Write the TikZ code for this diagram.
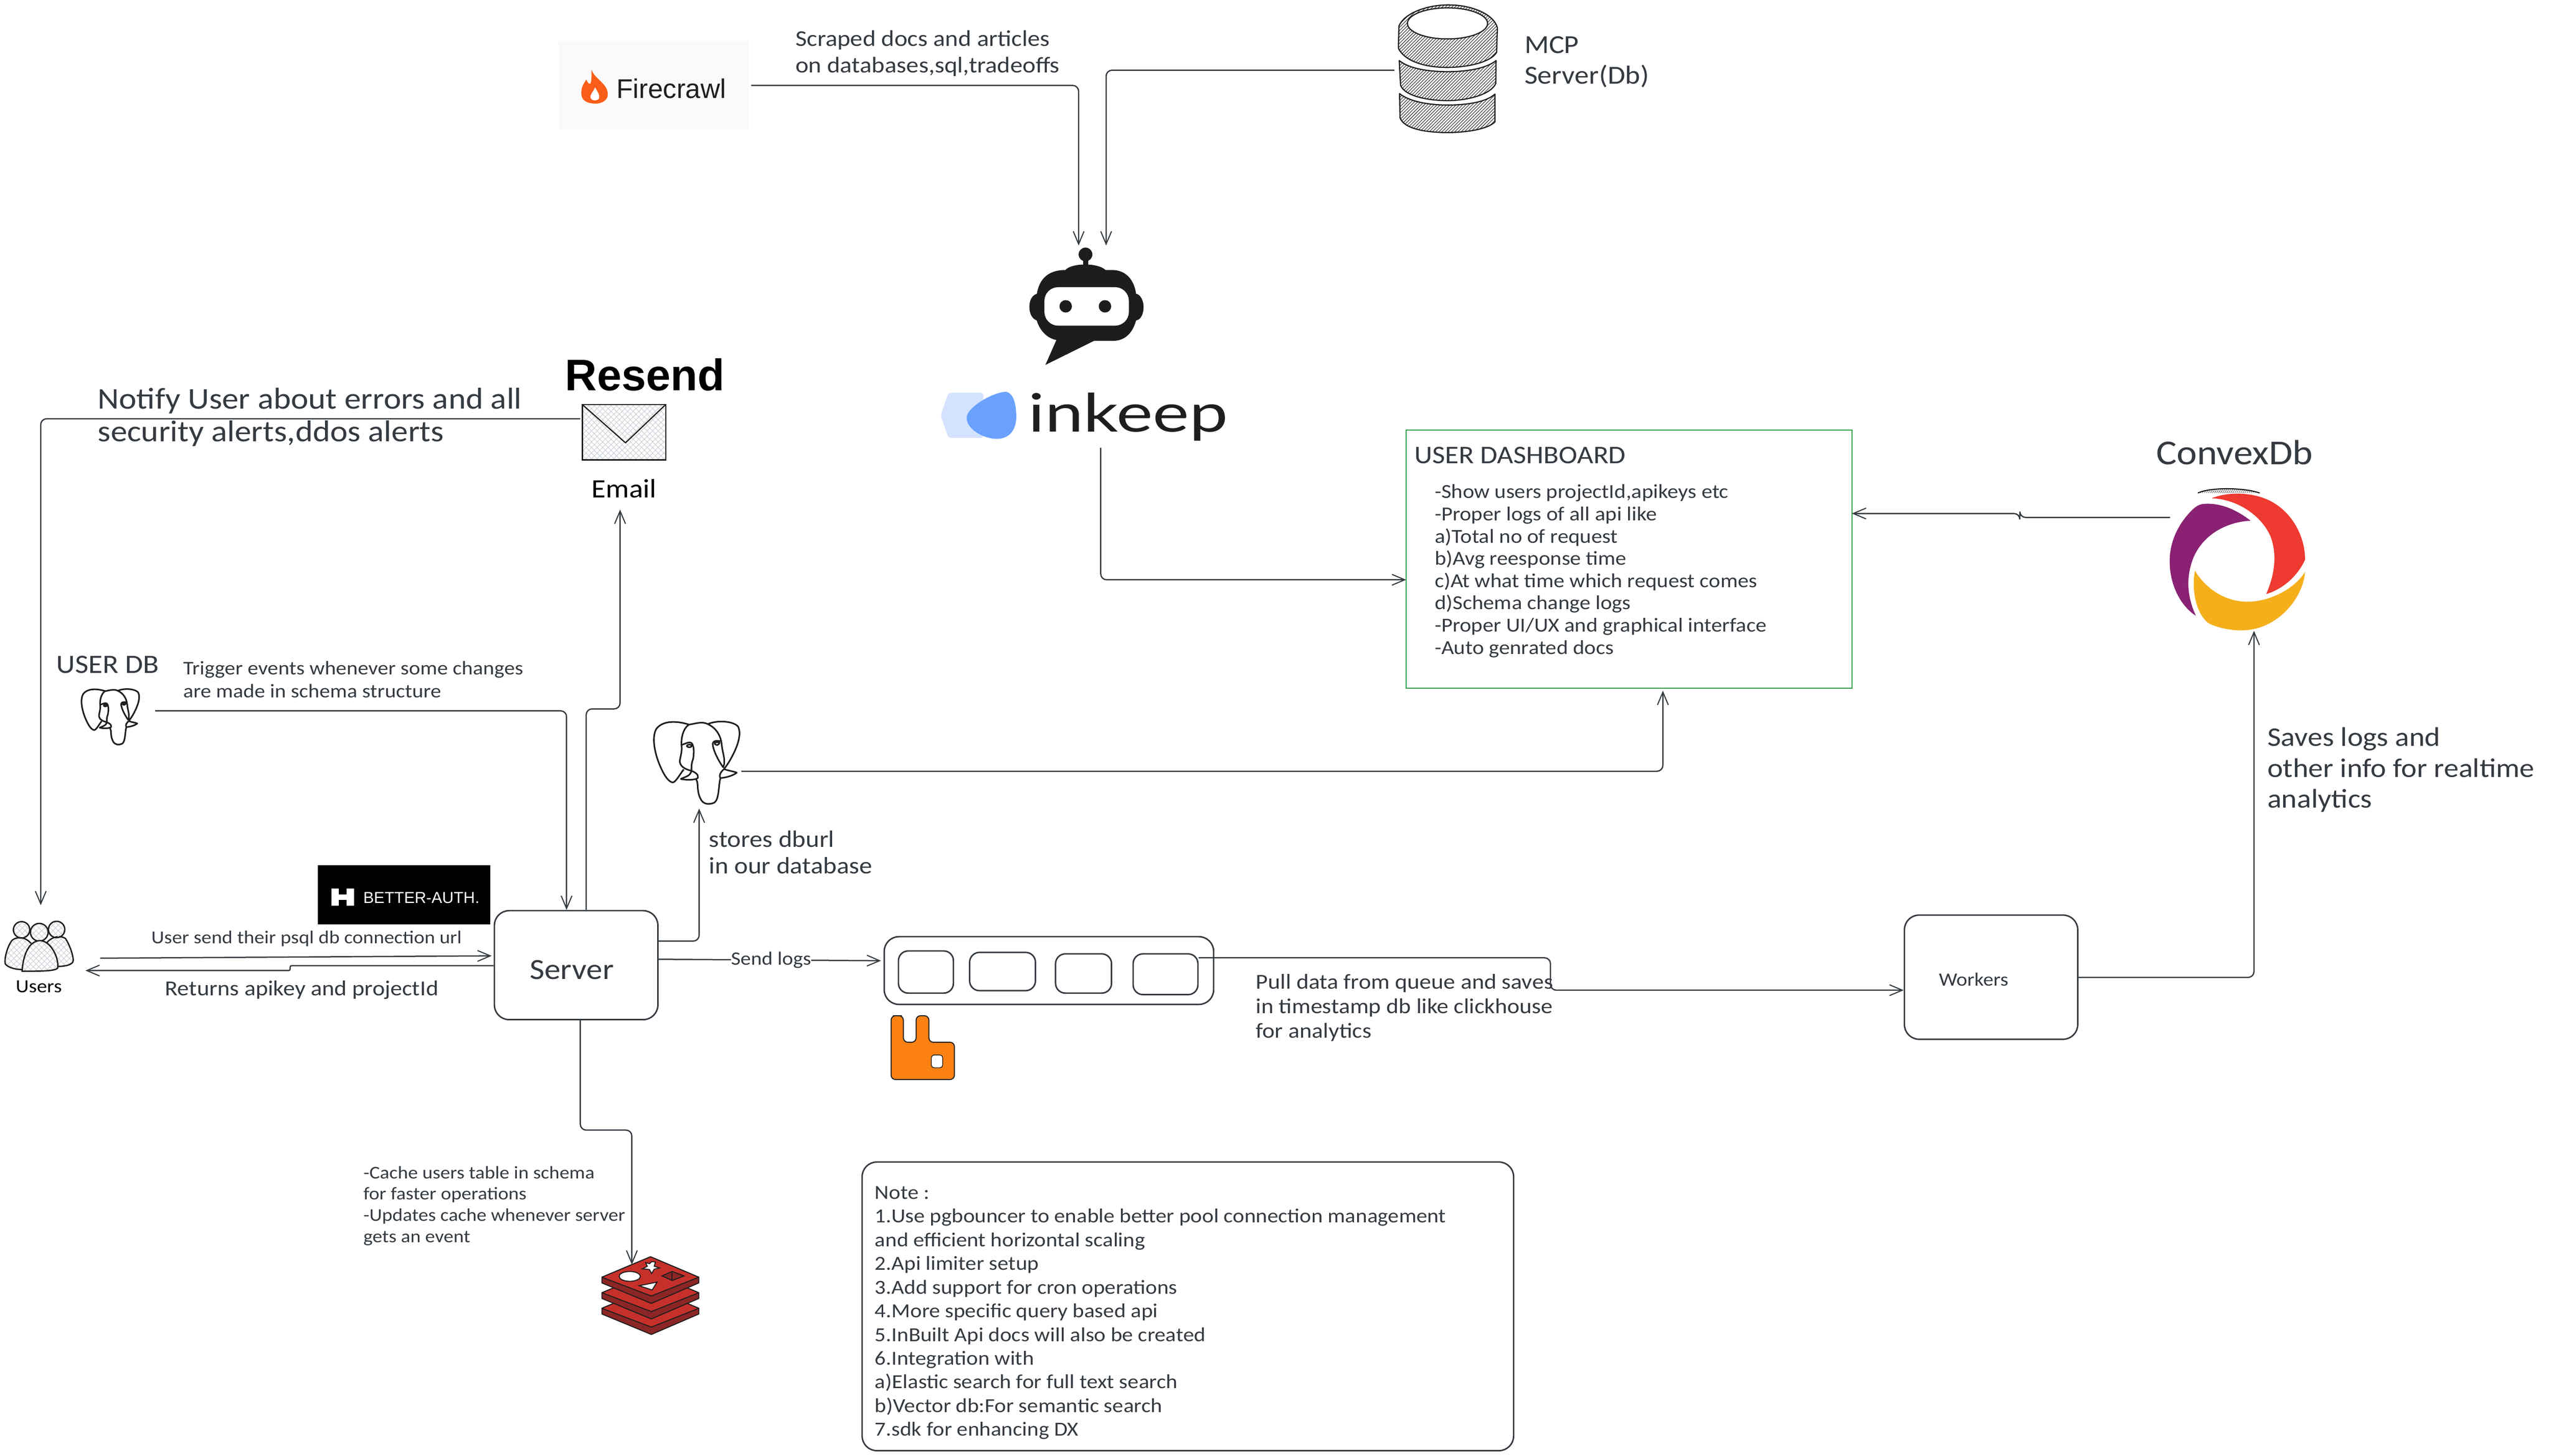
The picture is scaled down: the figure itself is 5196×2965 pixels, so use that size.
\documentclass[tikz,border=0pt]{standalone}
\usepackage{fontspec}
\usetikzlibrary{arrows.meta,patterns.meta,shapes.geometric}
\setmainfont[FakeStretch=1.1]{Carlito}
\newfontfamily\logosans{Liberation Sans}
\newfontfamily\logolato{Lato}
\definecolor{ink}{HTML}{343A40}
\definecolor{dark}{HTML}{1E1E1E}
\definecolor{dashgreen}{HTML}{2F9E44}
\definecolor{robotblack}{HTML}{1E1C1C}
\definecolor{fireorange}{HTML}{FA5D19}
\definecolor{firebg}{HTML}{FAFAFA}
\definecolor{rabbit}{HTML}{FB8113}
\definecolor{redistop}{HTML}{C6302B}
\definecolor{redisside}{HTML}{8C2525}
\definecolor{cxred}{HTML}{EE3A30}
\definecolor{cxpurple}{HTML}{8A2172}
\definecolor{cxyellow}{HTML}{F4AF1B}
\definecolor{inklight}{HTML}{D3E2FF}
\definecolor{inkblue}{HTML}{6AA1FF}
\definecolor{hatchgrey}{HTML}{CED4DA}
\tikzset{
  txt/.style 2 args={font=\fontsize{#1}{#2}\selectfont,text=ink,inner sep=0pt,anchor=north west,align=left},
  rbox/.style={draw=ink,line width=3pt,rounded corners=30pt,inner sep=0pt},
  ghost/.style={inner sep=0pt,outer sep=0pt},
  conn/.style={draw=ink,line width=2.6pt,rounded corners=12pt,-{Straight Barb[length=26pt,width=22pt,line width=2.2pt]}},
  shapeline/.style={draw=dark,line width=2.4pt,line join=round},
  xhatch/.style={pattern={Hatch[angle=45,distance=8pt,line width=1.2pt]},pattern color=hatchgrey},
  dbhatch/.style={pattern={Lines[angle=45,distance=4.6pt,line width=1.3pt]},pattern color=black!75},
}
\newcommand{\drawelephant}{%
  \draw[line width=3.2pt,draw=dark,line join=round]
   (250,48) .. controls (180,25) and (90,20) .. (50,75) .. controls (25,120) and (35,200) .. (65,280) .. controls (85,330) and (115,395) .. (150,402) .. controls (170,400) and (195,350) .. (218,322)
   (250,48) .. controls (280,45) and (330,25) .. (365,45)
   (250,48) .. controls (215,70) and (200,130) .. (205,180) .. controls (210,220) and (190,260) .. (195,280) .. controls (200,310) and (240,325) .. (265,330)
   (365,45) .. controls (420,20) and (520,25) .. (550,60) .. controls (575,110) and (540,190) .. (520,230) .. controls (500,270) and (480,300) .. (465,318)
   (365,45) .. controls (420,70) and (445,120) .. (450,170) .. controls (455,220) and (470,250) .. (465,290) -- (458,312)
   (205,172) .. controls (230,165) and (250,150) .. (265,160) .. controls (285,180) and (280,230) .. (275,260) .. controls (265,280) and (265,310) .. (265,330)
   (452,150) .. controls (430,148) and (400,140) .. (395,165) .. controls (395,200) and (430,270) .. (460,310)
   (265,332) .. controls (285,335) and (310,355) .. (305,372) .. controls (300,385) and (240,390) .. (200,380) .. controls (230,365) and (255,365) .. (265,332)
   (295,385) .. controls (310,410) and (295,450) .. (320,500) .. controls (335,535) and (370,540) .. (405,525) .. controls (435,505) and (430,420) .. (442,375)
   (465,320) .. controls (490,330) and (530,335) .. (542,342) .. controls (510,365) and (470,372) .. (442,375) .. controls (430,355) and (450,330) .. (465,320)
   (235,178) .. controls (245,165) and (265,170) .. (268,178) .. controls (260,190) and (245,190) .. (235,178)
   (405,163) .. controls (415,152) and (430,155) .. (437,160) .. controls (430,175) and (415,178) .. (405,163);
}
\begin{document}
\begin{tikzpicture}[x=1pt,y=-1pt]
\useasboundingbox (0,0) rectangle (5196,2965);
\fill[white] (0,0) rectangle (5196,2965);

%% ---- Firecrawl
\node[ghost,fill=firebg,minimum width=387pt,minimum height=182pt] (firecrawl) at (1331.5,174) {};
\fill[fireorange] (1205,142) .. controls (1210,160) and (1238,170) .. (1238,192) .. controls (1238,205) and (1225,211) .. (1213,211) .. controls (1196,211) and (1184,205) .. (1184,190) .. controls (1184,175) and (1190,170) .. (1194,162) .. controls (1198,170) and (1200,172) .. (1203,170) .. controls (1206,160) and (1204,150) .. (1205,142);
\fill[white] (1212,178) .. controls (1218,188) and (1222,194) .. (1220,201) .. controls (1216,206) and (1206,206) .. (1203,200) .. controls (1201,192) and (1208,188) .. (1212,178);
\node[ghost,anchor=base west,font=\logosans\fontsize{55}{62}\selectfont,text=dark] (firecrawlText) at (1256,200) {Firecrawl};

%% ---- MCP database
\begin{scope}[shift={(2840,0)},x=0.3333pt,y=-0.3333pt]
  \path[dbhatch] (28,160) .. controls (60,80) and (200,30) .. (330,30) .. controls (480,30) and (610,90) .. (630,170) -- (625,320) .. controls (590,380) and (450,412) .. (320,412) .. controls (180,412) and (60,370) .. (25,295) -- cycle;
  \draw[shapeline] (28,160) .. controls (60,80) and (200,30) .. (330,30) .. controls (480,30) and (610,90) .. (630,170) -- (625,320) .. controls (590,380) and (450,412) .. (320,412) .. controls (180,412) and (60,370) .. (25,295) -- cycle;
  \draw[shapeline,fill=white] (325,143) ellipse [x radius=245,y radius=95];
  \path[dbhatch] (30,370) .. controls (90,420) and (210,438) .. (325,438) .. controls (440,438) and (560,420) .. (622,370) -- (620,510) .. controls (590,580) and (440,615) .. (325,615) .. controls (200,615) and (60,585) .. (38,520) -- cycle;
  \draw[shapeline] (30,370) .. controls (90,420) and (210,438) .. (325,438) .. controls (440,438) and (560,420) .. (622,370) -- (620,510) .. controls (590,580) and (440,615) .. (325,615) .. controls (200,615) and (60,585) .. (38,520) -- cycle;
  \path[dbhatch] (32,572) .. controls (90,620) and (210,642) .. (325,642) .. controls (440,642) and (560,625) .. (615,575) -- (615,745) .. controls (570,790) and (440,810) .. (325,810) .. controls (200,810) and (60,790) .. (35,720) -- cycle;
  \draw[shapeline] (32,572) .. controls (90,620) and (210,642) .. (325,642) .. controls (440,642) and (560,625) .. (615,575) -- (615,745) .. controls (570,790) and (440,810) .. (325,810) .. controls (200,810) and (60,790) .. (35,720) -- cycle;
\end{scope}
\node[ghost,minimum width=220pt,minimum height=264pt] (mcp) at (2950,141) {};
\node[txt={53}{62}] (mcpText) at (3105,74) {MCP\\Server(Db)};
\node[txt={46}{54}] (scrapedText) at (1620,62) {Scraped docs and articles\\on databases,sql,tradeoffs};

%% ---- Robot
\begin{scope}[shift={(2080,500)},x=0.3333pt,y=-0.3333pt]
  \fill[robotblack] (393,55) circle [radius=42];
  \fill[robotblack] (378,90) rectangle (410,130);
  \fill[robotblack] (95,300) .. controls (110,200) and (170,150) .. (270,150) .. controls (310,105) and (470,105) .. (515,150) -- (555,150) .. controls (640,150) and (690,210) .. (702,295) .. controls (730,300) and (748,340) .. (748,375) .. controls (748,420) and (730,455) .. (702,458) .. controls (680,540) and (630,583) .. (560,583) -- (445,583) -- (148,730) -- (215,578) .. controls (150,565) and (110,510) .. (95,458) .. controls (70,450) and (50,420) .. (50,375) .. controls (50,330) and (70,305) .. (95,295) -- cycle;
  \fill[white,rounded corners=28pt] (142,255) rectangle (658,490);
  \fill[robotblack] (272,372) circle [radius=38];
  \fill[robotblack] (512,372) circle [radius=38];
\end{scope}
\node[ghost,minimum width=234pt,minimum height=243pt] (robot) at (2212,621.5) {};

%% ---- Inkeep
\fill[inklight,rounded corners=5pt] (1916,846) -- (1932,800) -- (2003,800) -- (2003,892) -- (1932,892) -- cycle;
\fill[inkblue] (2048,798) .. controls (2020,800) and (1970,830) .. (1969,850) .. controls (1968,875) and (2005,894) .. (2030,894) .. controls (2060,894) and (2070,870) .. (2070,850) .. controls (2070,825) and (2065,800) .. (2048,798);
\node[ghost,anchor=base west,text=dark] (inkeepText) at (2095,880) {\scalebox{1.3}[1]{\logolato\fontsize{108}{120}\selectfont inkeep}};
\node[ghost,minimum width=580pt,minimum height=114pt] (inkeep) at (2206,855) {};

%% ---- Resend and email
\node[ghost,anchor=base west,font=\logosans\bfseries\fontsize{90}{100}\selectfont,text=black] (resendText) at (1151,796) {Resend};
\node[ghost,draw=dark,line width=2.6pt,xhatch,minimum width=170pt,minimum height=113pt] (envelope) at (1271,880.5) {};
\draw[shapeline] (envelope.north west) -- (1274,902) -- (envelope.north east);
\node[txt={54}{60},text=black] (emailText) at (1205,976) {Email};
\node[ghost,minimum width=174pt,minimum height=214pt] (emailGroup) at (1269,931) {};
\node[txt={61.4}{67}] (notifyText) at (199,790) {Notify User about errors and all\\security alerts,ddos alerts};

%% ---- User DB
\node[txt={54}{60}] (userDbText) at (115,1336) {USER DB};
\begin{scope}[shift={(158,1397)},x=0.2245pt,y=-0.2245pt]
  \drawelephant
\end{scope}
\node[ghost,minimum width=150pt,minimum height=121pt] (userDb) at (241,1461.5) {};
\node[txt={39.5}{46}] (triggerText) at (373,1347) {Trigger events whenever some changes\\are made in schema structure};

%% ---- Postgres
\begin{scope}[shift={(1320,1460)},x=0.3333pt,y=-0.3333pt]
  \drawelephant
\end{scope}
\node[ghost,minimum width=178pt,minimum height=179pt] (pg) at (1421,1557.5) {};
\node[txt={48}{54}] (storesText) at (1444,1692) {stores dburl\\in our database};

%% ---- Users
\begin{scope}[shift={(0,1870)},x=0.3333pt,y=-0.3333pt]
  \path[xhatch] (190,155) .. controls (150,110) and (100,115) .. (75,135) .. controls (45,170) and (25,250) .. (32,280) .. controls (50,305) and (100,315) .. (135,315) -- cycle;
  \draw[draw=dark,line width=2.8pt] (190,155) .. controls (150,110) and (100,115) .. (75,135) .. controls (45,170) and (25,250) .. (32,280) .. controls (50,305) and (100,315) .. (135,315);
  \path[xhatch] (285,152) .. controls (320,110) and (370,105) .. (400,125) .. controls (430,170) and (455,250) .. (445,270) .. controls (430,290) and (390,295) .. (355,296) -- cycle;
  \draw[draw=dark,line width=2.8pt] (285,152) .. controls (320,110) and (370,105) .. (400,125) .. controls (430,170) and (455,250) .. (445,270) .. controls (430,290) and (390,295) .. (355,296);
  \path[xhatch] (132,72) circle [radius=50];
  \draw[draw=dark,line width=2.8pt] (132,72) circle [radius=50];
  \path[xhatch] (346,70) circle [radius=50];
  \draw[draw=dark,line width=2.8pt] (346,70) circle [radius=50];
  \fill[white] (240,87) circle [radius=54];
  \path[xhatch] (240,87) circle [radius=54];
  \draw[draw=dark,line width=2.8pt] (240,87) circle [radius=54];
  \fill[white] (135,325) .. controls (140,240) and (170,140) .. (245,138) .. controls (310,140) and (360,240) .. (353,305) .. controls (340,325) and (250,325) .. (135,325) -- cycle;
  \path[xhatch] (135,325) .. controls (140,240) and (170,140) .. (245,138) .. controls (310,140) and (360,240) .. (353,305) .. controls (340,325) and (250,325) .. (135,325) -- cycle;
  \draw[draw=dark,line width=2.8pt] (135,325) .. controls (140,240) and (170,140) .. (245,138) .. controls (310,140) and (360,240) .. (353,305) .. controls (340,325) and (250,325) .. (135,325) -- cycle;
\end{scope}
\node[ghost,minimum width=165pt,minimum height=186pt] (usersIcon) at (91.5,1937) {};
\node[txt={37.8}{48},text=black] (usersText) at (32,1997) {Users};

%% ---- Better Auth
\node[ghost,fill=black,minimum width=352pt,minimum height=121pt] (betterAuth) at (823,1822.5) {};
\fill[white] (675,1810) rectangle (690,1845) (706,1810) rectangle (721,1845) (690,1822) rectangle (706,1833);
\node[ghost,anchor=base west,font=\logosans\fontsize{32.5}{40}\selectfont,text=white] (betterText) at (740,1840) {BETTER-AUTH.};

%% ---- Server
\node[rbox,minimum width=333pt,minimum height=222pt] (server) at (1173.5,1966) {};
\node[txt={59.7}{70}] (serverText) at (1079,1956) {Server};

%% ---- Queue
\node[rbox,minimum width=671pt,minimum height=138pt] (queue) at (2136.5,1977) {};
\node[rbox,minimum width=112pt,minimum height=86pt,rounded corners=20pt] (q1) at (1886,1980) {};
\node[rbox,minimum width=134pt,minimum height=78pt,rounded corners=20pt] (q2) at (2042,1979) {};
\node[rbox,minimum width=114pt,minimum height=80pt,rounded corners=20pt] (q3) at (2207,1983) {};
\node[rbox,minimum width=132pt,minimum height=83pt,rounded corners=20pt] (q4) at (2374,1984.5) {};
\draw[fill=rabbit,draw=dark,line width=2pt,rounded corners=9pt] (1828,2069) -- (1840,2069) -- (1840,2123) -- (1866,2123) -- (1866,2069) -- (1892,2069) -- (1892,2123) -- (1944,2123) -- (1944,2199) -- (1815,2199) -- (1815,2069) -- cycle;
\draw[fill=white,draw=dark,line width=1.5pt,rounded corners=6pt] (1897,2149) rectangle (1920,2175);
\node[txt={43.4}{50}] (pullText) at (2558,1984) {Pull data from queue and saves\\in timestamp db like clickhouse\\for analytics};

%% ---- Workers
\node[rbox,minimum width=353pt,minimum height=253pt] (workers) at (4055.5,1990.5) {};
\node[txt={38.2}{50}] (workersText) at (3949,1982) {Workers};

%% ---- Redis
\begin{scope}[shift={(1210,2550)},x=0.3333pt,y=-0.3333pt]
  \foreach \dy in {190,95,0}{
    \begin{scope}[yshift=-0.3333*\dy pt]
    \filldraw[fill=redisside,draw=dark,line width=2pt,line join=round] (48,155) -- (48,190) -- (350,315) -- (640,190) -- (640,155) -- (345,30) -- cycle;
    \filldraw[fill=redistop,draw=dark,line width=2pt,line join=round] (48,155) -- (345,30) -- (640,155) -- (350,270) -- cycle;
    \end{scope}
  }
  \filldraw[fill=white,draw=dark,line width=2pt] (218,150) ellipse [x radius=65,y radius=30];
  \filldraw[fill=white,draw=dark,line width=2pt] (352,60) -- (375,62) -- (368,88) -- (400,98) -- (368,106) -- (352,132) -- (338,108) -- (296,104) -- (325,88) -- (315,66) -- (340,72) -- cycle;
  \filldraw[fill=white,draw=dark,line width=2pt] (275,207) -- (385,185) -- (355,233) -- cycle;
  \filldraw[fill=redisside,draw=dark,line width=2pt] (415,147) -- (477,120) -- (550,147) -- (477,175) -- cycle;
  \draw[draw=dark,line width=2pt] (477,120) -- (477,175);
\end{scope}
\node[ghost,minimum width=203pt,minimum height=144pt] (redis) at (1324.5,2648) {};
\node[txt={36.5}{43.5}] (cacheText) at (740,2375) {-Cache users table in schema\\for faster operations\\-Updates cache whenever server\\gets an event};

%% ---- Note
\node[rbox,minimum width=1327pt,minimum height=588pt] (note) at (2419.5,2661) {};
\node[txt={40.6}{48.3}] (noteText) at (1782,2416) {Note :\\1.Use pgbouncer to enable better pool connection management\\and efficient horizontal scaling\\2.Api limiter setup\\3.Add support for cron operations\\4.More specific query based api\\5.InBuilt Api docs will also be created\\6.Integration with\\a)Elastic search for full text search\\b)Vector db:For semantic search\\7.sdk for enhancing DX};

%% ---- Dashboard
\node[ghost,draw=dashgreen,line width=2.6pt,minimum width=908pt,minimum height=526pt] (dashboard) at (3318,1139) {};
\node[txt={51.8}{60}] (dashTitle) at (2881,910) {USER DASHBOARD};
\node[txt={40.4}{45.3}] (dashBody) at (2922,987) {-Show users projectId,apikeys etc\\-Proper logs of all api like\\a)Total no of request\\b)Avg reesponse time\\c)At what time which request comes\\d)Schema change logs\\-Proper UI/UX and graphical interface\\-Auto genrated docs};

%% ---- Convex
\node[txt={71.3}{80}] (convexText) at (4392,896) {ConvexDb};
\begin{scope}[shift={(4380,970)},x=0.3333pt,y=-0.3333pt]
  \fill[cxred] (375,135) .. controls (470,95) and (620,95) .. (730,150) .. controls (860,215) and (945,360) .. (945,510) .. controls (900,610) and (810,690) .. (708,720) .. controls (760,600) and (775,480) .. (735,370) .. controls (680,240) and (530,140) .. (375,135) -- cycle;
  \fill[cxpurple] (612,272) .. controls (520,200) and (420,160) .. (320,170) .. controls (280,175) and (250,210) .. (220,245) .. controls (150,330) and (115,430) .. (118,530) .. controls (120,660) and (180,790) .. (278,853) .. controls (225,740) and (215,620) .. (262,500) .. controls (320,360) and (460,280) .. (612,272) -- cycle;
  \fill[cxyellow] (272,578) .. controls (340,690) and (460,770) .. (600,767) .. controls (730,765) and (880,690) .. (945,585) .. controls (935,740) and (780,940) .. (560,942) .. controls (480,945) and (370,915) .. (345,890) .. controls (280,830) and (250,700) .. (272,578) -- cycle;
  \path[pattern={Lines[angle=60,distance=4pt,line width=1.2pt]},pattern color=black] (290,103) .. controls (370,65) and (580,70) .. (668,103) -- cycle;
  \draw[draw=black,line width=2pt] (290,103) .. controls (370,65) and (580,70) .. (668,103);
\end{scope}
\node[ghost,minimum width=275pt,minimum height=289pt] (convex) at (4557.5,1140.5) {};
\node[txt={54.8}{62.5}] (savesText) at (4618,1482) {Saves logs and\\other info for realtime\\analytics};

%% ---- Connectors
\draw[conn,shorten <=5pt] (firecrawl.east |- 0,174) -| (robot.north -| 2197,0);
\draw[conn] (mcp.west |- 0,143) -| (robot.north -| 2253,0);
\draw[conn] (inkeep.south -| 2242,0) |- (dashboard.west |- 0,1181);
\draw[conn] (convex.west |- 0,1054) -- (4114,1054) -- (4114,1046) -- (dashboard.east |- 0,1046);
\draw[conn,shorten >=5pt] (pg.east |- 0,1571) -| (dashboard.south -| 3387,0);
\draw[conn] (emailGroup.west |- 0,853) -| (usersIcon.north -| 83,0);
\draw[conn] (userDb.east |- 0,1448) -| (server.north -| 1154,0);
\draw[conn] (server.north -| 1194,0) |- (1263,1444) -- (emailGroup.south -| 1263,0);
\draw[conn] (server.east |- 0,1917) -| (pg.south -| 1424,0);
\draw[conn,shorten <=30pt,shorten >=4pt] (usersIcon.east |- 0,1952) -- (server.west |- 0,1947);
\node[txt={37.2}{44}] (userSendText) at (308,1896) {User send their psql db connection url};
\draw[conn,rounded corners=3pt] (server.west |- 0,1967) -- (591,1967) -- (591,1977) -- (usersIcon.east |- 0,1977);
\node[txt={43.6}{50}] (returnsText) at (336,1997) {Returns apikey and projectId};
\draw[conn,shorten >=5pt] (server.east |- 0,1954) -- node[pos=0.5,fill=white,inner sep=0pt,font=\fontsize{38.5}{46}\selectfont,text=ink] (sendLogs) {Send logs} (queue.west |- 0,1957);
\draw[conn] (q4.east |- 0,1951) -- (3158,1951) -- (3158,2017) -- (workers.west |- 0,2017);
\draw[conn] (workers.east |- 0,1991) -| (convex.south -| 4591,0);
\draw[conn] (server.south -| 1182,0) |- (1287,2302) -- (redis.north -| 1287,0);
\end{tikzpicture}
\end{document}
